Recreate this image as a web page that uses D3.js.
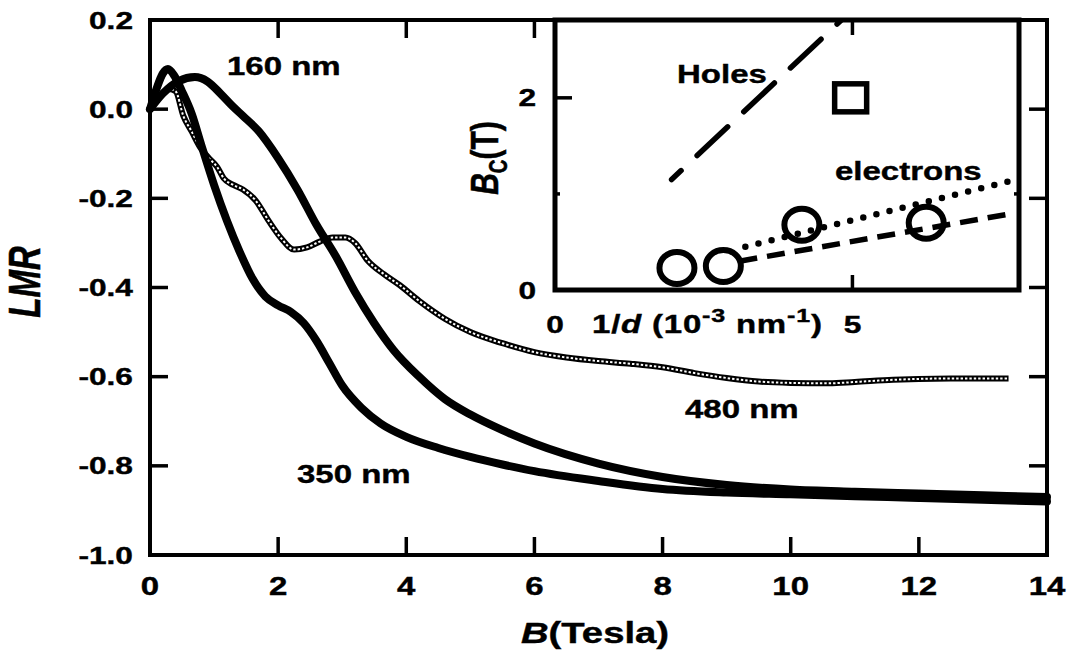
<!DOCTYPE html>
<html>
<head>
<meta charset="utf-8">
<script src="https://cdn.jsdelivr.net/npm/d3@7"></script>
<style>
  body { margin: 0; background: #fff; }
  text { font-family: "Liberation Sans", Arial, sans-serif; font-weight: bold; fill: #000; stroke: #000; stroke-width: 0.4px; white-space: pre; }
</style>
</head>
<body>
<script>
// main panel: LMR vs B for three film thicknesses
const field160 = [0, 0.2, 0.45, 0.7, 0.9, 1.1, 1.3, 1.45, 1.7, 2.0, 2.3, 2.6, 2.9, 3.2, 3.5, 3.8, 4.2, 4.6, 5.0, 5.5, 6.0, 7.0, 8.0, 9.0, 10, 11, 12, 13, 14];
const lmr160 = [0, 0.035, 0.063, 0.072, 0.062, 0.035, 0.005, -0.015, -0.05, -0.11, -0.18, -0.26, -0.33, -0.41, -0.48, -0.54, -0.6, -0.65, -0.685, -0.72, -0.75, -0.795, -0.825, -0.843, -0.853, -0.858, -0.862, -0.866, -0.87];

const field350 = [0, 0.1, 0.2, 0.28, 0.38, 0.5, 0.65, 0.8, 1.0, 1.2, 1.4, 1.6, 1.8, 2.0, 2.2, 2.4, 2.6, 2.8, 3.0, 3.3, 3.6, 4.0, 4.5, 5.0, 5.5, 6.0, 7.0, 8.0, 9.0, 10, 11, 12, 13, 14];
const lmr350 = [0, 0.045, 0.08, 0.09, 0.075, 0.04, -0.01, -0.08, -0.17, -0.25, -0.32, -0.38, -0.42, -0.44, -0.455, -0.48, -0.52, -0.57, -0.62, -0.67, -0.705, -0.735, -0.76, -0.78, -0.797, -0.812, -0.834, -0.852, -0.86, -0.864, -0.868, -0.872, -0.876, -0.88];

const field480 = [0, 0.15, 0.3, 0.4, 0.52, 0.65, 0.78, 0.92, 1.05, 1.15, 1.3, 1.45, 1.65, 1.85, 2.05, 2.25, 2.45, 2.65, 2.85, 3.05, 3.2, 3.4, 3.65, 3.9, 4.2, 4.6, 5.0, 5.5, 6.0, 6.5, 7.0, 7.5, 8.0, 8.5, 9.0, 9.5, 10.0, 10.6, 11.0, 11.6, 12.0, 12.5, 13.0, 13.4];
const lmr480 = [0, 0.03, 0.045, 0.04, -0.015, -0.05, -0.085, -0.11, -0.13, -0.155, -0.17, -0.18, -0.205, -0.25, -0.29, -0.315, -0.31, -0.297, -0.288, -0.288, -0.3, -0.34, -0.37, -0.395, -0.43, -0.47, -0.5, -0.525, -0.545, -0.557, -0.565, -0.571, -0.579, -0.592, -0.603, -0.611, -0.614, -0.615, -0.612, -0.607, -0.605, -0.604, -0.604, -0.604];

const xTicks = [0, 2, 4, 6, 8, 10, 12, 14];
const yTicks = [0.2, 0.0, -0.2, -0.4, -0.6, -0.8, -1.0];

// inset: critical field vs inverse thickness
const invD = [2.05, 2.83, 4.15, 6.24];
const bcElectrons = [0.23, 0.25, 0.68, 0.70];
const invDHoles = [4.97];
const bcHoles = [2.0];
const holesFitX = [1.96, 4.85];
const holesFitY = [1.15, 2.83];
const elecDotX = [3.2, 7.63];
const elecDotY = [0.45, 1.13];
const elecDashX = [3.1, 7.72];
const elecDashY = [0.30, 0.80];
const insetXTicks = [0, 5];
const insetYTicks = [0, 2];

const W = 1068, H = 664;
const SX = 1.32; // the picture's text is stretched sideways

const svg = d3.select("body")
    .append("svg")
    .attr("width", W)
    .attr("height", H);

svg.append("rect").attr("width", W).attr("height", H).attr("fill", "#fff");

const x = d3.scaleLinear().domain([0, 14]).range([150, 1047]);
const y = d3.scaleLinear().domain([-1.0, 0.2]).range([555, 20]);

// helper for stretched text
function txt(parent, px, py, size, anchor, rot) {
    return parent.append("text")
        .attr("transform", `translate(${px},${py}) scale(${SX},1)` + (rot ? " rotate(-90)" : ""))
        .attr("text-anchor", anchor)
        .style("font-size", size + "px");
}

// ticks (inward, all four sides)
const tk = 18;
const ticks = svg.append("g").attr("stroke", "#000").attr("stroke-width", 3.5);
xTicks.forEach(v => {
    ticks.append("line").attr("x1", x(v)).attr("x2", x(v)).attr("y1", 555).attr("y2", 555 - tk);
    ticks.append("line").attr("x1", x(v)).attr("x2", x(v)).attr("y1", 20).attr("y2", 20 + tk);
});
yTicks.forEach(v => {
    ticks.append("line").attr("x1", 150).attr("x2", 150 + tk).attr("y1", y(v)).attr("y2", y(v));
    ticks.append("line").attr("x1", 1047).attr("x2", 1047 - tk).attr("y1", y(v)).attr("y2", y(v));
});

// tick labels
xTicks.forEach(v => txt(svg, x(v), 595, 25, "middle").text(v));
yTicks.forEach(v => txt(svg, 133, y(v) + 8.5, 24, "end").text(v.toFixed(1)));

// curves
const line = d3.line()
    .x(d => x(d[0]))
    .y(d => y(d[1]))
    .curve(d3.curveMonotoneX);

const d160 = d3.zip(field160, lmr160);
const d350 = d3.zip(field350, lmr350);
const d480 = d3.zip(field480, lmr480);

// 480 nm: chain of small open circles
svg.append("path").datum(d480)
    .attr("d", line).attr("fill", "none")
    .attr("stroke", "#000").attr("stroke-width", 6);
svg.append("path").datum(d480)
    .attr("d", line).attr("fill", "none")
    .attr("stroke", "#fff").attr("stroke-width", 2)
    .attr("stroke-dasharray", "2.4,2");

[d350, d160].forEach(d => {
    svg.append("path").datum(d)
        .attr("d", line).attr("fill", "none")
        .attr("stroke", "#000").attr("stroke-width", 8)
        .attr("stroke-linejoin", "round")
        .attr("stroke-linecap", "round");
});

// curve labels
txt(svg, 227, 75, 25, "start").text("160 nm");
txt(svg, 297, 483, 25, "start").text("350 nm");
txt(svg, 685, 418, 25, "start").text("480 nm");

// axis titles
const xt = txt(svg, 595, 643, 29, "middle");
xt.append("tspan").style("font-style", "italic").text("B");
xt.append("tspan").text("(Tesla)");
txt(svg, 40, 282, 33, "middle", true).style("font-style", "italic").text("LMR");

// ----- inset -----
const ix = d3.scaleLinear().domain([0, 7.8]).range([555, 1019]);
const iy = d3.scaleLinear().domain([0, 2.81]).range([290, 20]);
const inset = svg.append("g");

inset.append("rect")
    .attr("x", ix(0)).attr("y", iy(2.81))
    .attr("width", ix(7.8) - ix(0)).attr("height", iy(0) - iy(2.81))
    .attr("fill", "#fff");

svg.append("defs").append("clipPath").attr("id", "insetClip")
    .append("rect")
    .attr("x", ix(0)).attr("y", iy(2.81))
    .attr("width", ix(7.8) - ix(0)).attr("height", iy(0) - iy(2.81));

const fit = d3.line().x(d => ix(d[0])).y(d => iy(d[1]));
const plotArea = inset.append("g").attr("clip-path", "url(#insetClip)");

plotArea.append("path").datum(d3.zip(holesFitX, holesFitY))
    .attr("d", fit).attr("fill", "none")
    .attr("stroke", "#000").attr("stroke-width", 5.5)
    .attr("stroke-linecap", "round")
    .attr("stroke-dasharray", "42,22").attr("stroke-dashoffset", 29);

plotArea.append("path").datum(d3.zip(elecDotX, elecDotY))
    .attr("d", fit).attr("fill", "none")
    .attr("stroke", "#000").attr("stroke-width", 6.5)
    .attr("stroke-linecap", "round")
    .attr("stroke-dasharray", "0,13.5");

plotArea.append("path").datum(d3.zip(elecDashX, elecDashY))
    .attr("d", fit).attr("fill", "none")
    .attr("stroke", "#000").attr("stroke-width", 5.5)
    .attr("stroke-dasharray", "18,10");

inset.selectAll("ellipse")
    .data(d3.zip(invD, bcElectrons))
    .enter()
    .append("ellipse")
    .attr("cx", d => ix(d[0]))
    .attr("cy", d => iy(d[1]))
    .attr("rx", 17.5).attr("ry", 16)
    .attr("fill", "none")
    .attr("stroke", "#000").attr("stroke-width", 6);

inset.selectAll(".hole")
    .data(d3.zip(invDHoles, bcHoles))
    .enter()
    .append("rect")
    .attr("class", "hole")
    .attr("x", d => ix(d[0]) - 16)
    .attr("y", d => iy(d[1]) - 14)
    .attr("width", 32).attr("height", 28)
    .attr("fill", "none")
    .attr("stroke", "#000").attr("stroke-width", 5.5);

// inset frame and ticks
inset.append("rect")
    .attr("x", ix(0)).attr("y", iy(2.81))
    .attr("width", ix(7.8) - ix(0)).attr("height", iy(0) - iy(2.81))
    .attr("fill", "none").attr("stroke", "#000").attr("stroke-width", 5);

const itk = inset.append("g").attr("stroke", "#000").attr("stroke-width", 3.5);
itk.append("line").attr("x1", ix(5)).attr("x2", ix(5)).attr("y1", iy(0)).attr("y2", iy(0) - 15);
itk.append("line").attr("x1", ix(5)).attr("x2", ix(5)).attr("y1", iy(2.81)).attr("y2", iy(2.81) + 15);
itk.append("line").attr("x1", ix(0)).attr("x2", ix(0) + 17).attr("y1", iy(2)).attr("y2", iy(2));
itk.append("line").attr("x1", ix(0)).attr("x2", ix(0) + 5).attr("y1", iy(1)).attr("y2", iy(1));
itk.append("line").attr("x1", ix(7.8)).attr("x2", ix(7.8) - 5).attr("y1", iy(1)).attr("y2", iy(1));

insetXTicks.forEach(v => txt(inset, ix(v), 333, 24, "middle").text(v));
insetYTicks.forEach(v => txt(inset, 536, iy(v) + 8.5, 24, "end").text(v));

const ixt = txt(inset, 592, 333, 25, "start").style("letter-spacing", "0.6px");
ixt.append("tspan").text("1/");
ixt.append("tspan").style("font-style", "italic").text("d");
ixt.append("tspan").text(" (10");
ixt.append("tspan").style("font-size", "19px").attr("dy", -11).text("-3");
ixt.append("tspan").attr("dy", 11).text(" nm");
ixt.append("tspan").style("font-size", "19px").attr("dy", -11).text("-1");
ixt.append("tspan").attr("dy", 11).text(")");

const iyt = txt(inset, 498, 158, 30, "middle", true);
iyt.append("tspan").style("font-style", "italic").text("B");
iyt.append("tspan").style("font-size", "19px").attr("dy", 7).text("C");
iyt.append("tspan").attr("dy", -7).text("(T)");

txt(inset, 677, 83, 25, "start").text("Holes");
txt(inset, 835, 180, 25, "start").text("electrons");

// main frame
svg.append("rect")
    .attr("x", 150).attr("y", 20)
    .attr("width", 1047 - 150).attr("height", 555 - 20)
    .attr("fill", "none").attr("stroke", "#000").attr("stroke-width", 4);
</script>
</body>
</html>
